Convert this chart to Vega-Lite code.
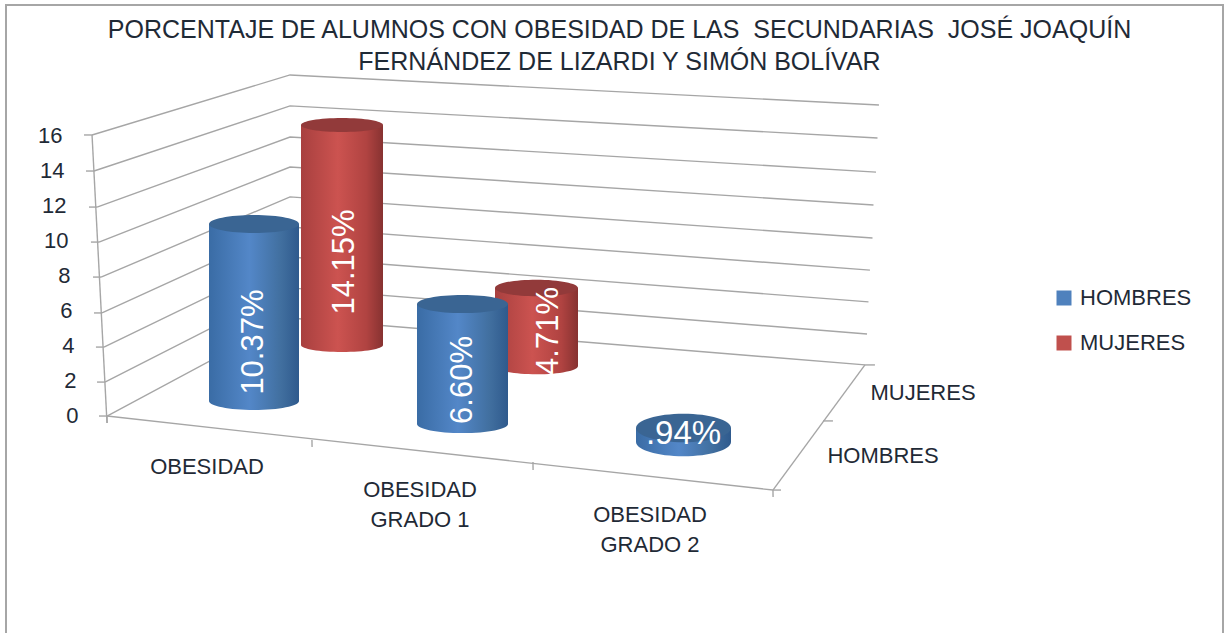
{"$schema":"https://vega.github.io/schema/vega-lite/v6.json","width":1217,"height":640,"autosize":"none","padding":{"left":6,"top":5,"right":3,"bottom":0},"background":"white","view":{"stroke":"#a6a6a6","strokeWidth":2},
"config":{"font":"Liberation Sans"},
"title":{"text":["PORCENTAJE DE ALUMNOS CON OBESIDAD DE LAS \u00a0SECUNDARIAS \u00a0JOSÉ JOAQUÍN","FERNÁNDEZ DE LIZARDI Y SIMÓN BOLÍVAR"],"font":"Liberation Sans","fontSize":25,"fontWeight":"normal","color":"#1f2a36","lineHeight":32,"anchor":"middle","frame":"group","offset":-70,"dx":5},
"datasets":{
"barras":[{"categoria":"OBESIDAD","serie":"HOMBRES","valor":10.37,"etiqueta":"10.37%"},{"categoria":"OBESIDAD","serie":"MUJERES","valor":14.15,"etiqueta":"14.15%"},{"categoria":"OBESIDAD GRADO 1","serie":"HOMBRES","valor":6.6,"etiqueta":"6.60%"},{"categoria":"OBESIDAD GRADO 1","serie":"MUJERES","valor":4.71,"etiqueta":"4.71%"},{"categoria":"OBESIDAD GRADO 2","serie":"HOMBRES","valor":0.94,"etiqueta":".94%"}],
"paredes":[
{"l":"g16","a":7.07,"b":16.03},{"l":"g16","a":23.34,"b":19.46},{"l":"g16","a":71.73,"b":17.74},
{"l":"g14","a":7.23,"b":13.97},{"l":"g14","a":23.34,"b":17.69},{"l":"g14","a":71.61,"b":15.86},
{"l":"g12","a":7.48,"b":11.91},{"l":"g12","a":23.34,"b":15.91},{"l":"g12","a":71.49,"b":13.91},
{"l":"g10","a":7.64,"b":9.91},{"l":"g10","a":23.34,"b":14.2},{"l":"g10","a":71.28,"b":12.03},
{"l":"g8","a":7.81,"b":7.91},{"l":"g8","a":23.34,"b":12.49},{"l":"g8","a":71.2,"b":10.14},
{"l":"g6","a":7.89,"b":5.86},{"l":"g6","a":23.34,"b":10.77},{"l":"g6","a":70.99,"b":8.31},
{"l":"g4","a":8.05,"b":3.91},{"l":"g4","a":23.34,"b":9.06},{"l":"g4","a":70.87,"b":6.49},
{"l":"g2","a":8.13,"b":1.91},{"l":"g2","a":23.34,"b":7.29},{"l":"g2","a":70.75,"b":4.66},
{"l":"g0","a":8.3,"b":-0.03},{"l":"g0","a":23.34,"b":5.57},{"l":"g0","a":70.58,"b":2.89},
{"l":"eje","a":7.07,"b":16.03},{"l":"eje","a":8.3,"b":-0.43},
{"l":"frente","a":8.3,"b":-0.03},{"l":"frente","a":63.02,"b":-4.26},
{"l":"fondo","a":63.02,"b":-4.26},{"l":"fondo","a":70.58,"b":2.89},
{"l":"t16","a":6.41,"b":16.03},{"l":"t16","a":7.07,"b":16.03},
{"l":"t14","a":6.57,"b":13.97},{"l":"t14","a":7.23,"b":13.97},
{"l":"t12","a":6.82,"b":11.91},{"l":"t12","a":7.48,"b":11.91},
{"l":"t10","a":6.98,"b":9.91},{"l":"t10","a":7.64,"b":9.91},
{"l":"t8","a":7.15,"b":7.91},{"l":"t8","a":7.81,"b":7.91},
{"l":"t6","a":7.23,"b":5.86},{"l":"t6","a":7.89,"b":5.86},
{"l":"t4","a":7.39,"b":3.91},{"l":"t4","a":8.05,"b":3.91},
{"l":"t2","a":7.48,"b":1.91},{"l":"t2","a":8.13,"b":1.91},
{"l":"t0","a":7.64,"b":-0.03},{"l":"t0","a":8.3,"b":-0.03},
{"l":"c0","a":8.3,"b":-0.03},{"l":"c0","a":8.31,"b":-0.43},
{"l":"c1","a":25.14,"b":-1.4},{"l":"c1","a":25.15,"b":-1.8},
{"l":"c2","a":43.3,"b":-2.66},{"l":"c2","a":43.31,"b":-3.11},
{"l":"c3","a":63.02,"b":-4.26},{"l":"c3","a":63.03,"b":-4.66},
{"l":"p1","a":63.02,"b":-4.26},{"l":"p1","a":63.68,"b":-4.26},
{"l":"p2","a":67.13,"b":-0.31},{"l":"p2","a":67.95,"b":-0.31},
{"l":"p3","a":70.58,"b":2.89},{"l":"p3","a":71.4,"b":2.89}
],
"rotulos":[{"rotulo":"OBESIDAD"},{"rotulo":"OBESIDAD\nGRADO 1"},{"rotulo":"OBESIDAD\nGRADO 2"},{"rotulo":"MUJERES"},{"rotulo":"HOMBRES"}]
},
"resolve":{"scale":{"x":"independent","y":"independent"},"axis":{"x":"independent","y":"independent"}},
"layer":[
{"data":{"name":"paredes"},"mark":{"type":"line","color":"#a6a6a6","strokeWidth":1.4},"encoding":{"detail":{"field":"l"},"x":{"field":"a","type":"quantitative","axis":null,"scale":{"domain":[0,100],"nice":false,"zero":false}},"y":{"field":"b","type":"quantitative","scale":{"domain":[-13.114,23.457],"nice":false,"zero":false},"axis":{"values":[0,2,4,6,8,10,12,14,16],"title":null,"grid":false,"ticks":false,"domain":false,"offset":-56,"labelPadding":0,"labelFontSize":22,"labelColor":"#1f2a36","labelFont":"Liberation Sans","labelBound":false,"encoding":{"labels":{"dx":{"value":{"signal":"16-datum.value"}}}}}}}},

{"data":{"name":"barras"},"transform":[{"filter":"datum.categoria==='OBESIDAD' && datum.serie==='MUJERES'"}],"encoding":{"x":{"field":"categoria","type":"nominal","axis":null,"scale":{"domain":["OBESIDAD"],"range":[336,336]}},"y":{"field":"valor","type":"quantitative","axis":null,"scale":{"domain":[0,16],"range":[340,91.2],"nice":false}}},"layer":[
{"mark":{"type":"bar","size":82},"encoding":{"color":{"field":"serie","type":"nominal","scale":{"domain":["HOMBRES","MUJERES"],"range":["#4f81bd","#c0504d"]},"legend":{"title":null,"orient":"none","legendX":1047,"legendY":282,"symbolType":"square","symbolSize":225,"labelFontSize":22,"labelFont":"Liberation Sans","labelColor":"#1f2a36","labelOffset":5,"rowPadding":23,"symbolOpacity":1}}}},
{"mark":{"type":"bar","size":82,"fill":{"gradient":"linear","x1":0,"y1":0,"x2":1,"y2":0,"stops":[{"offset":0,"color":"#a8403f"},{"offset":0.45,"color":"#cc5350"},{"offset":0.8,"color":"#b04341"},{"offset":1,"color":"#873231"}]}}},
{"mark":{"type":"point","filled":true,"opacity":1,"strokeWidth":0,"size":6724,"shape":"M-1,0A1,0.17,0,1,1,1,0A1,0.17,0,1,1,-1,0Z","fill":{"gradient":"linear","x1":0,"y1":0,"x2":1,"y2":0,"stops":[{"offset":0,"color":"#a8403f"},{"offset":0.45,"color":"#cc5350"},{"offset":0.8,"color":"#b04341"},{"offset":1,"color":"#873231"}]}},"encoding":{"y":{"datum":0,"type":"quantitative","axis":null,"scale":{"domain":[0,16],"range":[340,91.2],"nice":false}}}},
{"mark":{"type":"point","filled":true,"opacity":1,"strokeWidth":0,"size":6724,"shape":"M-1,0A1,0.17,0,1,1,1,0A1,0.17,0,1,1,-1,0Z","fill":"#923a3a"}},
{"mark":{"type":"text","color":"white","font":"Liberation Sans","fontSize":31,"angle":-90,"align":"center","baseline":"middle","yOffset":137,"xOffset":3},"encoding":{"text":{"field":"etiqueta"}}}
]},

{"data":{"name":"barras"},"transform":[{"filter":"datum.categoria==='OBESIDAD' && datum.serie==='HOMBRES'"}],"encoding":{"x":{"field":"categoria","type":"nominal","axis":null,"scale":{"domain":["OBESIDAD"],"range":[248,248]}},"y":{"field":"valor","type":"quantitative","axis":null,"scale":{"domain":[0,16],"range":[396,123],"nice":false}}},"layer":[
{"mark":{"type":"bar","size":90},"encoding":{"color":{"field":"serie","type":"nominal","scale":{"domain":["HOMBRES","MUJERES"],"range":["#4f81bd","#c0504d"]},"legend":{"title":null,"orient":"none","legendX":1047,"legendY":282,"symbolType":"square","symbolSize":225,"labelFontSize":22,"labelFont":"Liberation Sans","labelColor":"#1f2a36","labelOffset":5,"rowPadding":23,"symbolOpacity":1}}}},
{"mark":{"type":"bar","size":90,"fill":{"gradient":"linear","x1":0,"y1":0,"x2":1,"y2":0,"stops":[{"offset":0,"color":"#3a6ca5"},{"offset":0.45,"color":"#5387c8"},{"offset":0.8,"color":"#416f9f"},{"offset":1,"color":"#2f5a8d"}]}}},
{"mark":{"type":"point","filled":true,"opacity":1,"strokeWidth":0,"size":8100,"shape":"M-1,0A1,0.2,0,1,1,1,0A1,0.2,0,1,1,-1,0Z","fill":{"gradient":"linear","x1":0,"y1":0,"x2":1,"y2":0,"stops":[{"offset":0,"color":"#3a6ca5"},{"offset":0.45,"color":"#5387c8"},{"offset":0.8,"color":"#416f9f"},{"offset":1,"color":"#2f5a8d"}]}},"encoding":{"y":{"datum":0,"type":"quantitative","axis":null,"scale":{"domain":[0,16],"range":[396,123],"nice":false}}}},
{"mark":{"type":"point","filled":true,"opacity":1,"strokeWidth":0,"size":8100,"shape":"M-1,0A1,0.2,0,1,1,1,0A1,0.2,0,1,1,-1,0Z","fill":"#3a6593"}},
{"mark":{"type":"text","color":"white","font":"Liberation Sans","fontSize":31,"angle":-90,"align":"center","baseline":"middle","yOffset":118,"xOffset":0},"encoding":{"text":{"field":"etiqueta"}}}
]},

{"data":{"name":"barras"},"transform":[{"filter":"datum.categoria==='OBESIDAD GRADO 1' && datum.serie==='MUJERES'"}],"encoding":{"x":{"field":"categoria","type":"nominal","axis":null,"scale":{"domain":["OBESIDAD GRADO 1"],"range":[530.5,530.5]}},"y":{"field":"valor","type":"quantitative","axis":null,"scale":{"domain":[0,16],"range":[361,96],"nice":false}}},"layer":[
{"mark":{"type":"bar","size":83,"fill":{"gradient":"linear","x1":0,"y1":0,"x2":1,"y2":0,"stops":[{"offset":0,"color":"#a8403f"},{"offset":0.45,"color":"#cc5350"},{"offset":0.8,"color":"#b04341"},{"offset":1,"color":"#873231"}]}}},
{"mark":{"type":"point","filled":true,"opacity":1,"strokeWidth":0,"size":6889,"shape":"M-1,0A1,0.2,0,1,1,1,0A1,0.2,0,1,1,-1,0Z","fill":{"gradient":"linear","x1":0,"y1":0,"x2":1,"y2":0,"stops":[{"offset":0,"color":"#a8403f"},{"offset":0.45,"color":"#cc5350"},{"offset":0.8,"color":"#b04341"},{"offset":1,"color":"#873231"}]}},"encoding":{"y":{"datum":0,"type":"quantitative","axis":null,"scale":{"domain":[0,16],"range":[361,96],"nice":false}}}},
{"mark":{"type":"point","filled":true,"opacity":1,"strokeWidth":0,"size":6889,"shape":"M-1,0A1,0.2,0,1,1,1,0A1,0.2,0,1,1,-1,0Z","fill":"#923a3a"}},
{"mark":{"type":"text","color":"white","font":"Liberation Sans","fontSize":31,"angle":-90,"align":"center","baseline":"middle","yOffset":43,"xOffset":12},"encoding":{"text":{"field":"etiqueta"}}}
]},

{"data":{"name":"barras"},"transform":[{"filter":"datum.categoria==='OBESIDAD GRADO 1' && datum.serie==='HOMBRES'"}],"encoding":{"x":{"field":"categoria","type":"nominal","axis":null,"scale":{"domain":["OBESIDAD GRADO 1"],"range":[456.5,456.5]}},"y":{"field":"valor","type":"quantitative","axis":null,"scale":{"domain":[0,16],"range":[419,128.1],"nice":false}}},"layer":[
{"mark":{"type":"bar","size":91,"fill":{"gradient":"linear","x1":0,"y1":0,"x2":1,"y2":0,"stops":[{"offset":0,"color":"#3a6ca5"},{"offset":0.45,"color":"#5387c8"},{"offset":0.8,"color":"#416f9f"},{"offset":1,"color":"#2f5a8d"}]}}},
{"mark":{"type":"point","filled":true,"opacity":1,"strokeWidth":0,"size":8281,"shape":"M-1,0A1,0.2,0,1,1,1,0A1,0.2,0,1,1,-1,0Z","fill":{"gradient":"linear","x1":0,"y1":0,"x2":1,"y2":0,"stops":[{"offset":0,"color":"#3a6ca5"},{"offset":0.45,"color":"#5387c8"},{"offset":0.8,"color":"#416f9f"},{"offset":1,"color":"#2f5a8d"}]}},"encoding":{"y":{"datum":0,"type":"quantitative","axis":null,"scale":{"domain":[0,16],"range":[419,128.1],"nice":false}}}},
{"mark":{"type":"point","filled":true,"opacity":1,"strokeWidth":0,"size":8281,"shape":"M-1,0A1,0.2,0,1,1,1,0A1,0.2,0,1,1,-1,0Z","fill":"#3a6593"}},
{"mark":{"type":"text","color":"white","font":"Liberation Sans","fontSize":31,"angle":-90,"align":"center","baseline":"middle","yOffset":76,"xOffset":0},"encoding":{"text":{"field":"etiqueta"}}}
]},

{"data":{"name":"barras"},"transform":[{"filter":"datum.categoria==='OBESIDAD GRADO 2' && datum.serie==='HOMBRES'"}],"encoding":{"x":{"field":"categoria","type":"nominal","axis":null,"scale":{"domain":["OBESIDAD GRADO 2"],"range":[677.5,677.5]}},"y":{"field":"valor","type":"quantitative","axis":null,"scale":{"domain":[0,16],"range":[437,199],"nice":false}}},"layer":[
{"mark":{"type":"bar","size":95,"fill":{"gradient":"linear","x1":0,"y1":0,"x2":1,"y2":0,"stops":[{"offset":0,"color":"#3a6ca5"},{"offset":0.45,"color":"#5387c8"},{"offset":0.8,"color":"#416f9f"},{"offset":1,"color":"#2f5a8d"}]}}},
{"mark":{"type":"point","filled":true,"opacity":1,"strokeWidth":0,"size":9025,"shape":"M-1,0A1,0.3,0,1,1,1,0A1,0.3,0,1,1,-1,0Z","fill":{"gradient":"linear","x1":0,"y1":0,"x2":1,"y2":0,"stops":[{"offset":0,"color":"#3a6ca5"},{"offset":0.45,"color":"#5387c8"},{"offset":0.8,"color":"#416f9f"},{"offset":1,"color":"#2f5a8d"}]}},"encoding":{"y":{"datum":0,"type":"quantitative","axis":null,"scale":{"domain":[0,16],"range":[437,199],"nice":false}}}},
{"mark":{"type":"point","filled":true,"opacity":1,"strokeWidth":0,"size":9025,"shape":"M-1,0A1,0.3,0,1,1,1,0A1,0.3,0,1,1,-1,0Z","fill":"#3a6593"}},
{"mark":{"type":"text","color":"white","font":"Liberation Sans","fontSize":33,"align":"center","baseline":"middle","yOffset":6,"xOffset":0},"encoding":{"text":{"field":"etiqueta"}}}
]},

{"data":{"name":"rotulos"},"transform":[{"filter":"datum.rotulo==='OBESIDAD'"}],"mark":{"type":"text","font":"Liberation Sans","fontSize":22,"color":"#1f2a36","align":"center","baseline":"middle","lineBreak":"\n","lineHeight":30},"encoding":{"text":{"field":"rotulo"},"x":{"field":"rotulo","type":"nominal","axis":null,"scale":{"domain":["OBESIDAD"],"range":[201,201]}},"y":{"field":"rotulo","type":"nominal","axis":null,"scale":{"domain":["OBESIDAD"],"range":[462,462]}}}},
{"data":{"name":"rotulos"},"transform":[{"filter":"datum.rotulo==='OBESIDAD\\nGRADO 1'"}],"mark":{"type":"text","font":"Liberation Sans","fontSize":22,"color":"#1f2a36","align":"center","baseline":"middle","lineBreak":"\n","lineHeight":30},"encoding":{"text":{"field":"rotulo"},"x":{"field":"rotulo","type":"nominal","axis":null,"scale":{"domain":["OBESIDAD\nGRADO 1"],"range":[414,414]}},"y":{"field":"rotulo","type":"nominal","axis":null,"scale":{"domain":["OBESIDAD\nGRADO 1"],"range":[485,485]}}}},
{"data":{"name":"rotulos"},"transform":[{"filter":"datum.rotulo==='OBESIDAD\\nGRADO 2'"}],"mark":{"type":"text","font":"Liberation Sans","fontSize":22,"color":"#1f2a36","align":"center","baseline":"middle","lineBreak":"\n","lineHeight":30},"encoding":{"text":{"field":"rotulo"},"x":{"field":"rotulo","type":"nominal","axis":null,"scale":{"domain":["OBESIDAD\nGRADO 2"],"range":[644,644]}},"y":{"field":"rotulo","type":"nominal","axis":null,"scale":{"domain":["OBESIDAD\nGRADO 2"],"range":[510,510]}}}},
{"data":{"name":"rotulos"},"transform":[{"filter":"datum.rotulo==='MUJERES'"}],"mark":{"type":"text","font":"Liberation Sans","fontSize":22,"color":"#1f2a36","align":"center","baseline":"middle"},"encoding":{"text":{"field":"rotulo"},"x":{"field":"rotulo","type":"nominal","axis":null,"scale":{"domain":["MUJERES"],"range":[917,917]}},"y":{"field":"rotulo","type":"nominal","axis":null,"scale":{"domain":["MUJERES"],"range":[388,388]}}}},
{"data":{"name":"rotulos"},"transform":[{"filter":"datum.rotulo==='HOMBRES'"}],"mark":{"type":"text","font":"Liberation Sans","fontSize":22,"color":"#1f2a36","align":"center","baseline":"middle"},"encoding":{"text":{"field":"rotulo"},"x":{"field":"rotulo","type":"nominal","axis":null,"scale":{"domain":["HOMBRES"],"range":[877,877]}},"y":{"field":"rotulo","type":"nominal","axis":null,"scale":{"domain":["HOMBRES"],"range":[451,451]}}}}
]}
